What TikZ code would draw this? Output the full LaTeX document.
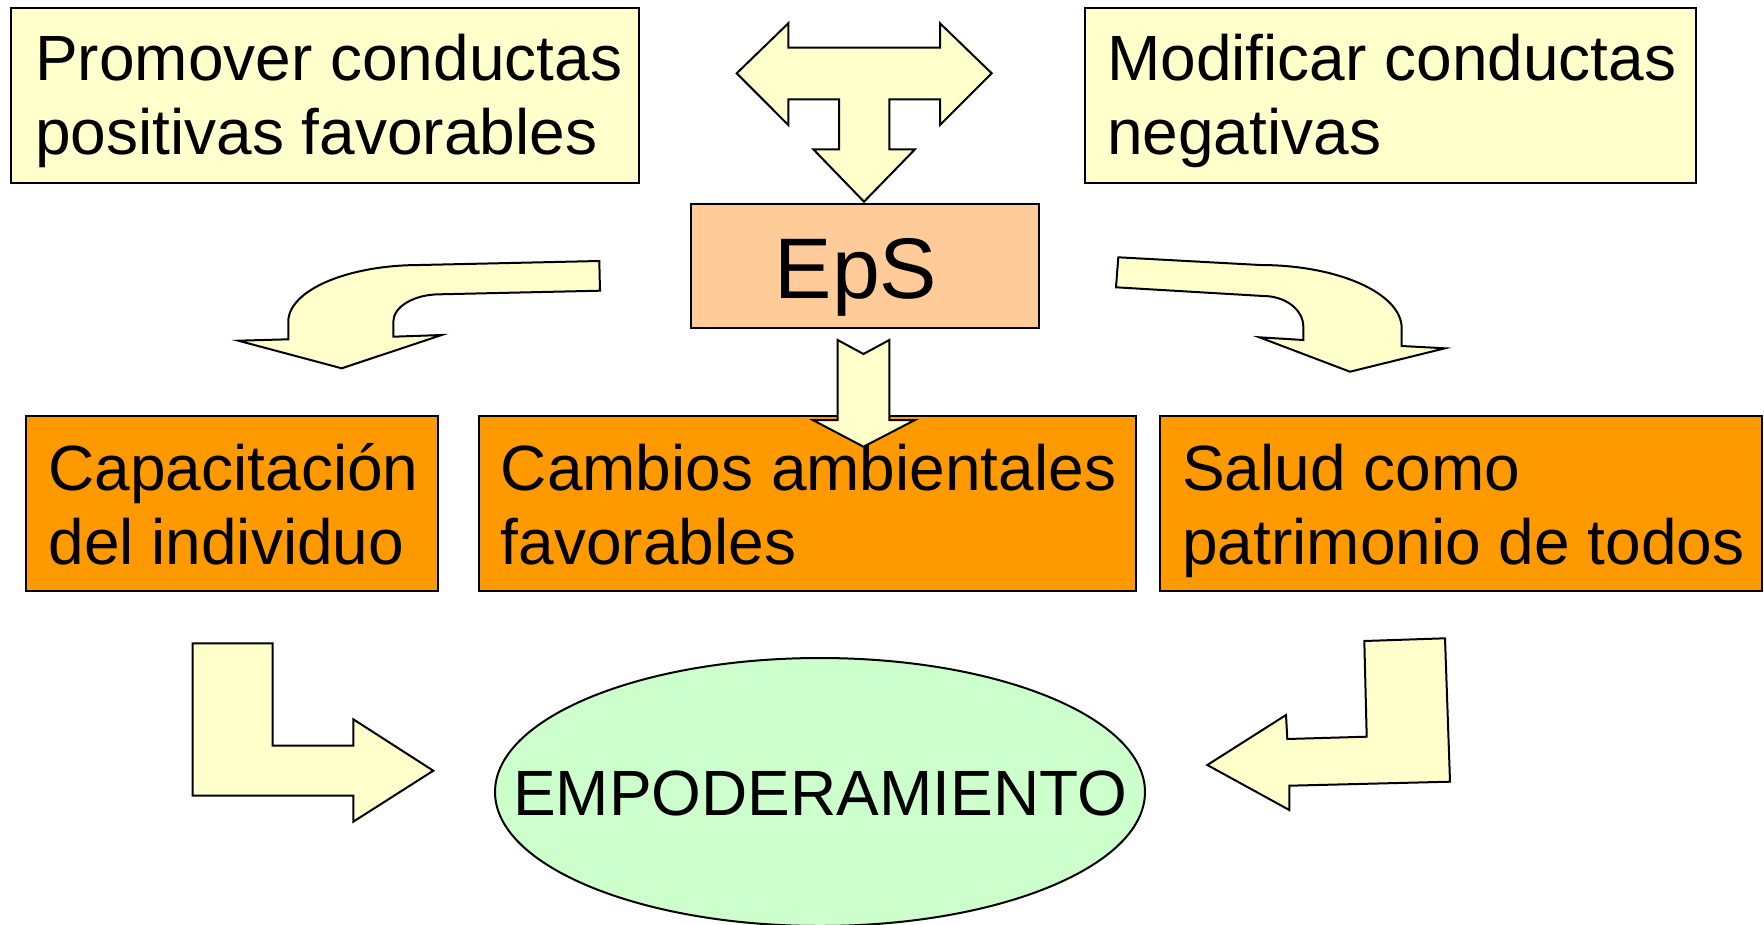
\documentclass[tikz,border=0pt]{standalone}
\usepackage{fontspec}
\setmainfont{Liberation Sans}
\usetikzlibrary{shapes.geometric}
\definecolor{lightyel}{HTML}{FFFFCC}
\definecolor{peach}{HTML}{FFCC99}
\definecolor{orangebox}{HTML}{FF9900}
\definecolor{mint}{HTML}{CCFFCC}
\tikzset{
  boxbase/.style={draw=black, line width=2pt, rectangle, inner sep=0pt},
  yelbox/.style={boxbase, fill=lightyel},
  orabox/.style={boxbase, fill=orangebox},
  txt/.style={anchor=base west, align=left, inner sep=0pt, font=\fontsize{64}{74}\selectfont},
  blockarrow/.style={draw=black, line width=2pt, fill=lightyel, line join=miter},
}
\begin{document}
\begin{tikzpicture}[x=1pt,y=-1pt]
\useasboundingbox (0,0) rectangle (1764,924);
% top boxes (text anchored at the baseline of its last line)
\node[yelbox, minimum width=628pt, minimum height=174.5pt] (prom) at (325,95.25) {};
\node[txt] (promtxt) at (35,154.5) {Promover conductas\\positivas favorables};
\node[yelbox, minimum width=611pt, minimum height=174.5pt] (modif) at (1390,95.25) {};
\node[txt] (modiftxt) at (1107,154.5) {Modificar conductas\\negativas};
% EpS
\node[boxbase, fill=peach, minimum width=348.3pt, minimum height=124.3pt] (eps) at (865.15,266.15) {};
\node[anchor=base, inner sep=0pt, font=\fontsize{86}{90}\selectfont] (epstxt) at (856,298.3) {EpS};
% orange boxes
\node[orabox, minimum width=411.7pt, minimum height=175pt] (cap) at (231.85,503.5) {};
\node[txt] (captxt) at (48.3,564.5) {Capacitación\\del individuo};
\node[orabox, minimum width=657.3pt, minimum height=175pt] (camb) at (807.65,503.5) {};
\node[txt] (cambtxt) at (500.6,564.5) {Cambios ambientales\\favorables};
\node[orabox, minimum width=602pt, minimum height=175pt] (salud) at (1461,503.5) {};
\node[txt] (saludtxt) at (1182,564.5) {Salud como\\patrimonio de todos};
% ellipse
\node[ellipse, draw=black, line width=2pt, fill=mint, minimum width=650pt, minimum height=268pt,
      inner sep=0pt] (emp) at (820,792) {};
\node[anchor=base, inner sep=0pt, font=\fontsize{64}{74}\selectfont] (emptxt) at (820,815.6) {EMPODERAMIENTO};
% T arrow
\draw[blockarrow] (736.7,73.3) -- (788.3,23.3) -- (788.3,47.7) -- (940,47.7) -- (940,23.3)
  -- (991.7,73.3) -- (940,125) -- (940,99.3) -- (889.3,99.3) -- (889.3,149.3) -- (915,149.3)
  -- (864,201.7) -- (813.3,149.3) -- (839,149.3) -- (839,99.3) -- (788.3,99.3) -- (788.3,125) -- cycle;
% left curved arrow
\draw[blockarrow] (599.3,261) -- (420,265) .. controls (347.3,265) and (288.3,290.4) .. (288.3,321.7)
  -- (288.3,339.3) -- (238.3,340.7) -- (341.7,368.3) -- (441.7,335) -- (393.3,336.7) -- (393.3,321.7)
  .. controls (393.3,306.6) and (414.2,294.3) .. (440,294.3) -- (600,290.7) -- cycle;
% right curved arrow
\draw[blockarrow] (1118.3,257.3) -- (1260,265) .. controls (1338,265) and (1401.7,293.3) .. (1401.7,328.3)
  -- (1401.7,346) -- (1445,348.3) -- (1350,371.7) -- (1259.3,337.3) -- (1303.3,340) -- (1303.3,326.7)
  .. controls (1303.3,309.7) and (1285.4,296) .. (1263.3,296) -- (1116,287.3) -- cycle;
% middle down arrow
\draw[blockarrow] (837.7,340) -- (863.5,354) -- (889.3,340) -- (889.3,420) -- (915,420)
  -- (863.5,446.7) -- (812.7,420) -- (837.7,420) -- cycle;
% bottom-left L arrow
\draw[blockarrow] (192.7,643.3) -- (272.7,643.3) -- (272.7,745.7) -- (353.3,745.7) -- (353.3,719.3)
  -- (433.3,770.7) -- (353.3,821.7) -- (353.3,795.7) -- (192.7,795.7) -- cycle;
% bottom-right arrow
\draw[blockarrow] (1364.3,641) -- (1445,638.3) -- (1450,781.7) -- (1289.3,785.7) -- (1289.3,810)
  -- (1207.3,765) -- (1286,715) -- (1287.3,739) -- (1366.7,736.7) -- cycle;
\end{tikzpicture}
\end{document}
